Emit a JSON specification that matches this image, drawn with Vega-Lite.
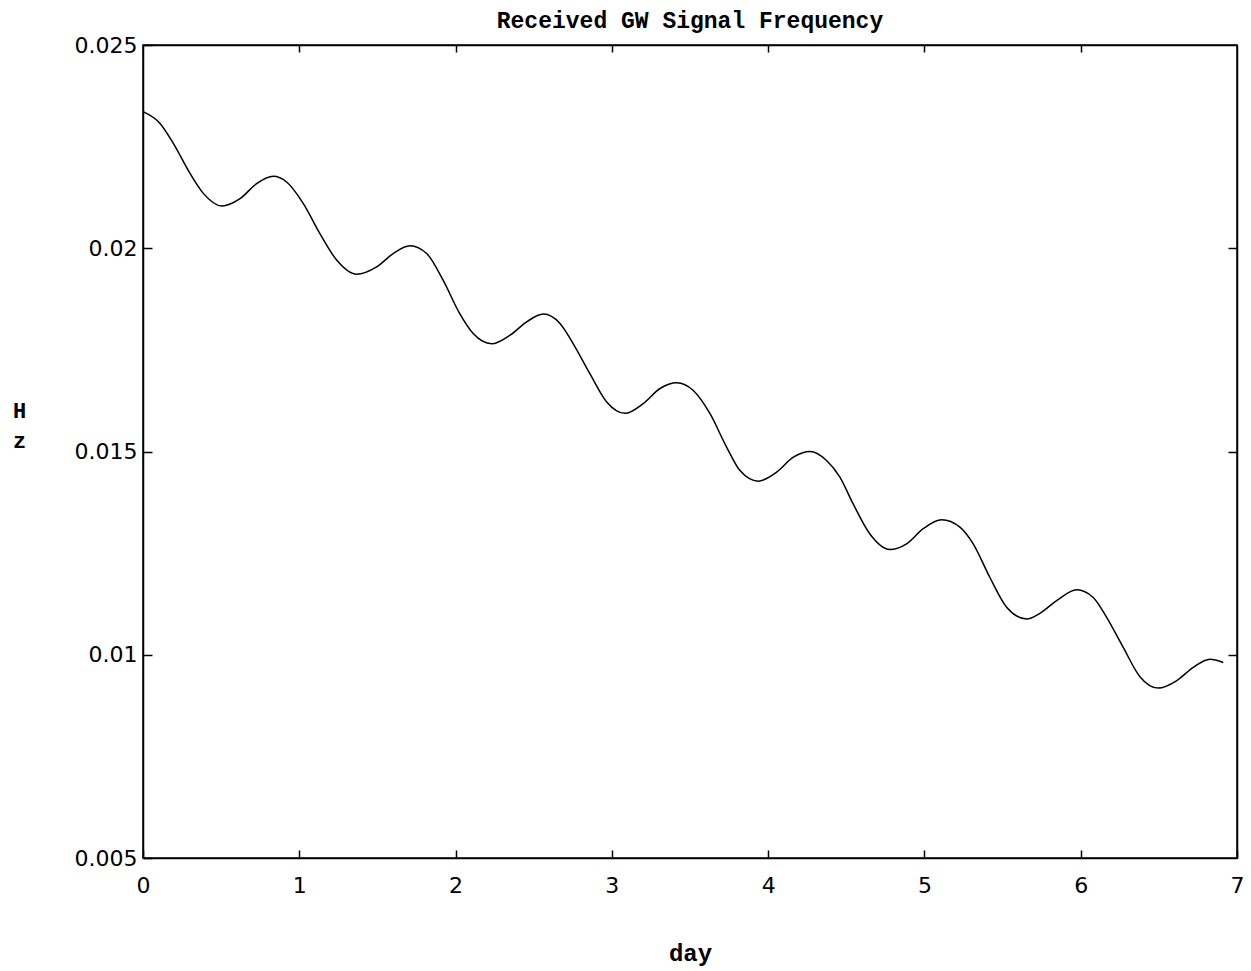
{
  "$schema": "https://vega.github.io/schema/vega-lite/v6.json",
  "autosize": {"type": "none"},
  "width": 1094,
  "height": 813,
  "padding": {"left": 143, "top": 45, "right": 14, "bottom": 113},
  "background": "white",
  "config": {
    "view": {"stroke": "black", "strokeWidth": 1.5},
    "axis": {"domainColor": "black", "tickColor": "black", "labelColor": "black", "titleColor": "black", "grid": false}
  },
  "title": {
    "text": "Received GW Signal Frequency",
    "font": "Liberation Mono",
    "fontSize": 23,
    "fontWeight": "bold",
    "color": "black",
    "anchor": "middle",
    "offset": 1
  },
  "data": {
    "values": [
      {"day": 0.0, "hz": 0.02336},
      {"day": 0.109, "hz": 0.02307},
      {"day": 0.194, "hz": 0.02258},
      {"day": 0.301, "hz": 0.02184},
      {"day": 0.386, "hz": 0.02135},
      {"day": 0.504, "hz": 0.02104},
      {"day": 0.621, "hz": 0.02122},
      {"day": 0.727, "hz": 0.02159},
      {"day": 0.834, "hz": 0.02177},
      {"day": 0.919, "hz": 0.02163},
      {"day": 1.026, "hz": 0.0211},
      {"day": 1.132, "hz": 0.02036},
      {"day": 1.239, "hz": 0.01971},
      {"day": 1.367, "hz": 0.01936},
      {"day": 1.495, "hz": 0.01954},
      {"day": 1.601, "hz": 0.01987},
      {"day": 1.708, "hz": 0.02006},
      {"day": 1.815, "hz": 0.01987},
      {"day": 1.921, "hz": 0.01921},
      {"day": 2.024, "hz": 0.01841},
      {"day": 2.113, "hz": 0.0179},
      {"day": 2.231, "hz": 0.01765},
      {"day": 2.348, "hz": 0.01786},
      {"day": 2.455, "hz": 0.01819},
      {"day": 2.561, "hz": 0.01838},
      {"day": 2.668, "hz": 0.01815},
      {"day": 2.753, "hz": 0.01765},
      {"day": 2.86, "hz": 0.01691},
      {"day": 2.967, "hz": 0.01622},
      {"day": 3.084, "hz": 0.01594},
      {"day": 3.201, "hz": 0.01618},
      {"day": 3.308, "hz": 0.01655},
      {"day": 3.415, "hz": 0.01669},
      {"day": 3.521, "hz": 0.0165},
      {"day": 3.628, "hz": 0.01593},
      {"day": 3.734, "hz": 0.01511},
      {"day": 3.82, "hz": 0.01453},
      {"day": 3.937, "hz": 0.01427},
      {"day": 4.054, "hz": 0.01449},
      {"day": 4.161, "hz": 0.01486},
      {"day": 4.267, "hz": 0.015},
      {"day": 4.374, "hz": 0.01478},
      {"day": 4.459, "hz": 0.01437},
      {"day": 4.544, "hz": 0.01371},
      {"day": 4.651, "hz": 0.01297},
      {"day": 4.779, "hz": 0.01259},
      {"day": 4.886, "hz": 0.01273},
      {"day": 4.992, "hz": 0.0131},
      {"day": 5.11, "hz": 0.01332},
      {"day": 5.227, "hz": 0.01314},
      {"day": 5.312, "hz": 0.01273},
      {"day": 5.419, "hz": 0.0119},
      {"day": 5.526, "hz": 0.01117},
      {"day": 5.654, "hz": 0.01088},
      {"day": 5.739, "hz": 0.01102},
      {"day": 5.846, "hz": 0.01133},
      {"day": 5.974, "hz": 0.0116},
      {"day": 6.08, "hz": 0.01141},
      {"day": 6.166, "hz": 0.01092},
      {"day": 6.272, "hz": 0.01018},
      {"day": 6.379, "hz": 0.00946},
      {"day": 6.496, "hz": 0.00918},
      {"day": 6.613, "hz": 0.00936},
      {"day": 6.72, "hz": 0.00969},
      {"day": 6.827, "hz": 0.00989},
      {"day": 6.912, "hz": 0.00981}
    ]
  },
  "layer": [
    {
      "mark": {"type": "line", "color": "black", "strokeWidth": 1.5, "interpolate": "monotone"},
      "encoding": {
        "x": {
          "field": "day", "type": "quantitative",
          "scale": {"domain": [0, 7], "nice": false, "zero": false},
          "axis": {
            "orient": "bottom", "values": [0, 1, 2, 3, 4, 5, 6, 7], "format": "d",
            "tickSize": -8, "tickWidth": 1.5, "domainWidth": 1.5,
            "labelFont": "DejaVu Sans", "labelFontSize": 22, "labelPadding": 25,
            "labelFlush": false,
            "title": "day", "titleFont": "Liberation Mono", "titleFontSize": 24, "titleFontWeight": "bold",
            "titlePadding": 45
          }
        },
        "y": {
          "field": "hz", "type": "quantitative",
          "scale": {"domain": [0.005, 0.025], "nice": false, "zero": false},
          "axis": {
            "orient": "left", "values": [0.005, 0.01, 0.015, 0.02, 0.025], "format": "~g",
            "tickSize": -9, "tickWidth": 1.5, "domainWidth": 1.5,
            "labelFont": "DejaVu Sans", "labelFontSize": 22, "labelPadding": 15,
            "labelFlush": false,
            "title": ["H", "z"], "titleFont": "Liberation Mono", "titleFontSize": 22, "titleFontWeight": "bold",
            "titleAngle": 0, "titleAlign": "center", "titleBaseline": "middle",
            "titleX": -124, "titleY": 365, "titleLineHeight": 30
          }
        }
      }
    },
    {
      "mark": {"type": "line", "opacity": 0},
      "encoding": {
        "x": {
          "field": "day", "type": "quantitative",
          "scale": {"domain": [0, 7], "nice": false, "zero": false},
          "axis": {
            "orient": "top", "values": [1, 2, 3, 4, 5, 6], "labels": false,
            "tickSize": -7, "tickWidth": 1.5, "domainWidth": 1.5, "title": null
          }
        },
        "y": {
          "field": "hz", "type": "quantitative",
          "scale": {"domain": [0.005, 0.025], "nice": false, "zero": false},
          "axis": {
            "orient": "right", "values": [0.01, 0.015, 0.02], "labels": false,
            "tickSize": -9, "tickWidth": 1.5, "domainWidth": 1.5, "title": null
          }
        }
      }
    }
  ],
  "resolve": {"axis": {"x": "independent", "y": "independent"}}
}
